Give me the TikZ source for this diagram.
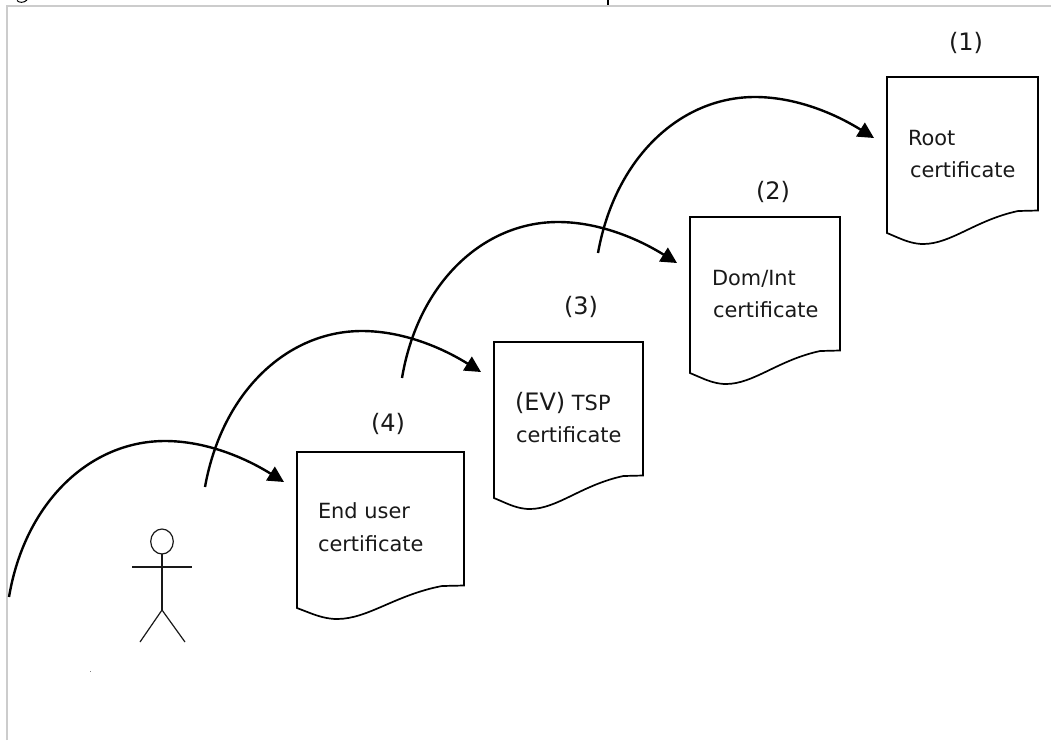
\documentclass[tikz,border=0pt]{standalone}
\usepackage{fontspec}
\setmainfont{DejaVu Sans}
\usetikzlibrary{arrows.meta}
\newcommand{\bodyfont}{\fontsize{20.9}{25}\selectfont}
\newcommand{\numfont}{\fontsize{24}{28}\selectfont}
\newcommand{\certpath}{(0,156) -- (13,161) .. controls (22,164.5) and (31,167) .. (40,167) .. controls (71,167) and (98,143) .. (145,134) -- (167,133.5) -- (167,0) -- (0,0) -- cycle}
\newcommand{\hop}[1]{(s#1) .. controls ([shift={(-259,20)}]t#1) and ([shift={(-194,-41)}]t#1) .. ([shift={(-119,-41)}]t#1) .. controls ([shift={(-79,-41)}]t#1) and ([shift={(-40,-25)}]t#1) .. (t#1)}
\tikzset{
  certline/.style={draw=black,line width=1.7pt,fill=white},
  hopline/.style={draw=black,line width=2.4pt,-{Triangle[length=16pt,width=16pt]}},
  certtext/.style={anchor=base west,inner sep=0pt,outer sep=0pt,font=\bodyfont,text=black!90},
  numtext/.style={anchor=center,inner sep=0pt,font=\numfont,text=black!90},
  frameline/.style={draw=black!20,line width=2pt},
  stick/.style={draw=black!90,line width=1.2pt}
}
\begin{document}
\begin{tikzpicture}[x=1pt,y=-1pt]
\useasboundingbox (0,0) rectangle (1051,740);
\fill[white] (0,0) rectangle (1051,740);
\coordinate (fa) at (7,740);
\coordinate (fb) at (7,6);
\coordinate (fc) at (1051,6);
\draw[frameline] (fa) -- (fb) -- (fc);
% clipped caption remains
\draw[black,line width=1pt] (17,0.5) .. controls (19,3) and (24,3) .. (27,0);
\draw[black,line width=1.6pt] (608,0) -- (608,5);
% certificates
\draw[certline,shift={(887,77)},xscale=0.904] \certpath;
\draw[certline,shift={(690,217)},xscale=0.898] \certpath;
\draw[certline,shift={(494,342)},xscale=0.892] \certpath;
\draw[certline,shift={(297,452)}] \certpath;
% connector ends
\coordinate (s1) at (598,253); \coordinate (t1) at (874,138);
\coordinate (s2) at (402,378); \coordinate (t2) at (677,263);
\coordinate (s3) at (205,487); \coordinate (t3) at (481,372);
\coordinate (s4) at (9,597);   \coordinate (t4) at (284,482);
\draw[hopline] \hop{1};
\draw[hopline] \hop{2};
\draw[hopline] \hop{3};
\draw[hopline] \hop{4};
% labels
\node[numtext] (n1) at (966,43) {(1)};
\node[numtext] (n2) at (773,192) {(2)};
\node[numtext] (n3) at (581,307) {(3)};
\node[numtext] (n4) at (388,424) {(4)};
\node[certtext] (r1) at (908,145) {Root};
\node[certtext] (r2) at (910,177) {certificate};
\node[certtext] (d1) at (712,285) {Dom/Int};
\node[certtext] (d2) at (713,317) {certificate};
\node[certtext] (e1) at (515,410) {{\numfont (EV)} TSP};
\node[certtext] (e2) at (516,442) {certificate};
\node[certtext] (u1) at (318,518) {End user};
\node[certtext] (u2) at (318,551) {certificate};
% person
\draw[stick] (162,541.5) ellipse [x radius=11.3pt,y radius=12.5pt];
\coordinate (neck) at (162,554);
\coordinate (hip) at (162,610);
\coordinate (handl) at (132,567);
\coordinate (handr) at (192,567);
\coordinate (footl) at (140,642);
\coordinate (footr) at (185,642);
\draw[stick] (neck) -- (hip);
\draw[stick] (handl) -- (handr);
\draw[stick] (footl) -- (hip) -- (footr);
\fill[black!50] (89.5,670.7) rectangle (91,671.5);
\end{tikzpicture}
\end{document}
